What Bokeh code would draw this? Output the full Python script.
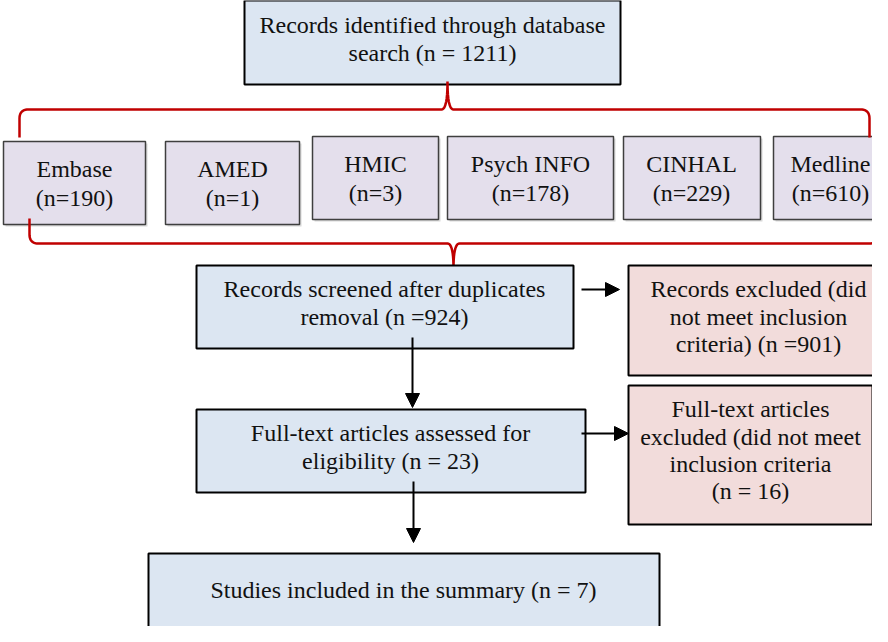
from bokeh.plotting import figure
from bokeh.models import Range1d, Arrow, NormalHead
from bokeh.core.properties import value
from bokeh.embed import file_html
from bokeh.resources import INLINE
import numpy as np

# ---------------- data ----------------
total_label = "Records identified through database"
total_n = 1211
sources = ["Embase", "AMED", "HMIC", "Psych INFO", "CINHAL", "Medline"]
source_counts = [190, 1, 3, 178, 229, 610]
screened_n = 924
excluded_screen_n = 901
fulltext_n = 23
excluded_fulltext_n = 16
included_n = 7

# ---------------- layout (image pixel coordinates) ----------------
FONT = value("Liberation Serif")
FS = "24px"
BLUE = "#DCE6F2"
PINK = "#F2DCDB"
LAV = "#E4DFEC"
RED = "#C00000"

p = figure(width=872, height=626, output_backend="svg", toolbar_location=None,
           x_range=Range1d(8, 880), y_range=Range1d(634, 8),
           min_border=0, outline_line_color=None)
p.axis.visible = False
p.grid.visible = False
p.background_fill_color = "white"


def box(l, r, t, b, fill, line="black", lw=2.0):
    p.quad(left=[l], right=[r], top=[t], bottom=[b], fill_color=fill,
           line_color=line, line_width=lw)


def lines(x, ys, texts):
    p.text(x=[x] * len(texts), y=ys, text=texts, text_font=FONT,
           text_font_size=FS, text_align="center", text_baseline="middle",
           text_color="#111111")


# top box
box(252, 628, 8, 92, BLUE)
lines(440, [32, 60], [total_label, f"search (n = {total_n})"])

# source boxes
src_geom = [(11, 153, 149, 232), (173, 307, 149, 232), (320, 446, 144, 227),
            (455, 621, 144, 227), (631, 768, 144, 227), (781, 900, 144, 227)]
src_text_x = [82, 240, 383, 538, 699, 838]
for (l, r, t, b), name, n, tx in zip(src_geom, sources, source_counts, src_text_x):
    # soft shadow
    p.quad(left=[l + 2], right=[r + 2], top=[t + 2], bottom=[b + 2],
           fill_color="#BFBFBF", line_color=None, fill_alpha=0.6)
    box(l, r, t, b, LAV, line="#3F3F3F", lw=1.5)
    lines(tx, [(t + b) / 2 - 14, (t + b) / 2 + 15], [name, f"(n={n})"])


def qbez(p0, c, p1, n=12):
    t = np.linspace(0, 1, n)
    x = (1 - t) ** 2 * p0[0] + 2 * (1 - t) * t * c[0] + t ** 2 * p1[0]
    y = (1 - t) ** 2 * p0[1] + 2 * (1 - t) * t * c[1] + t ** 2 * p1[1]
    return list(x), list(y)


def brace(xl, xr, xc, y_end, y_line, y_tip, rad=9, cw=6):
    s = 1 if y_end > y_line else -1
    xs, ys = [xl], [y_end]
    cx, cy = qbez((xl, y_line + s * rad), (xl, y_line), (xl + rad, y_line))
    xs += cx; ys += cy
    cx, cy = qbez((xc - cw, y_line), (xc, y_line), (xc, y_tip))
    xs += cx; ys += cy
    cx, cy = qbez((xc, y_tip), (xc, y_line), (xc + cw, y_line))
    xs += cx; ys += cy
    cx, cy = qbez((xr - rad, y_line), (xr, y_line), (xr, y_line + s * rad))
    xs += cx; ys += cy
    xs.append(xr); ys.append(y_end)
    p.line(xs, ys, line_color=RED, line_width=2.5)


brace(27, 877, 455, 145, 117, 89)
brace(37, 886, 461, 226, 251, 276)

# screened
box(204, 581, 273, 356, BLUE)
lines(392, [296, 324], ["Records screened after duplicates", f"removal (n ={screened_n})"])

# excluded at screening
box(636, 900, 273, 383, PINK)
lines(766, [296, 324, 351], ["Records excluded (did", "not meet inclusion",
                             f"criteria) (n ={excluded_screen_n})"])

# full text
box(204, 593, 417, 500, BLUE)
lines(398, [440, 468], ["Full-text articles assessed for", f"eligibility (n = {fulltext_n})"])

# full-text excluded
box(636, 880, 393, 532, PINK)
lines(758, [416, 444, 471, 498], ["Full-text articles", "excluded (did not meet",
                                  "inclusion criteria", f"(n = {excluded_fulltext_n})"])

# included
box(156, 667, 561, 660, BLUE)
lines(411, [597], [f"Studies included in the summary (n = {included_n})"])

# arrows
for (x0, y0, x1, y1) in [(589, 297, 627, 297), (420, 345, 420, 415),
                         (589, 441, 636, 441), (421, 489, 421, 550)]:
    p.add_layout(Arrow(end=NormalHead(size=14, fill_color="black", line_color="black"),
                       x_start=x0, y_start=y0, x_end=x1, y_end=y1,
                       line_width=2, line_color="black"))

open("out.html", "w").write(file_html(p, INLINE))
